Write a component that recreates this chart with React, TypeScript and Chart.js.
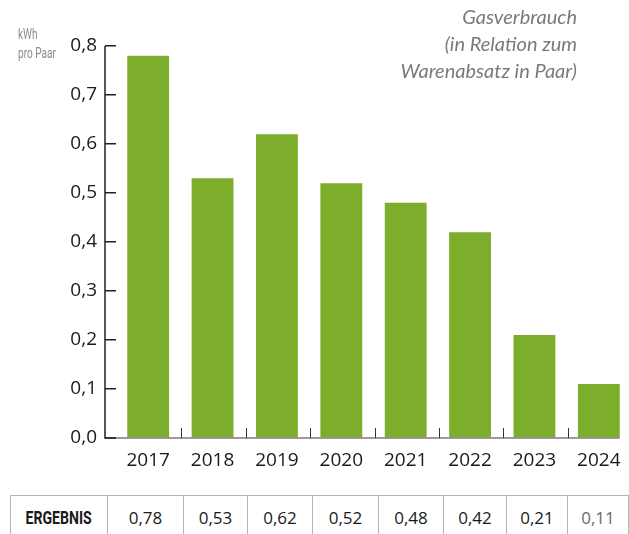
import React, { useEffect, useRef } from "react";
import { Chart, registerables } from "chart.js";

Chart.register(...registerables);

const years: string[] = ["2017", "2018", "2019", "2020", "2021", "2022", "2023", "2024"];
const values: number[] = [0.78, 0.53, 0.62, 0.52, 0.48, 0.42, 0.21, 0.11];
const yMin = 0;
const yMax = 0.8;
const yStep = 0.1;
const titleLines: string[] = ["Gasverbrauch", "(in Relation zum", "Warenabsatz in Paar)"];
const unitLines: string[] = ["kWh", "pro Paar"];
const rowLabel = "ERGEBNIS";

const fmt = (v: number, d: number) => v.toFixed(d).replace(".", ",");

const BAR_COLOR = "#7cad2b";
const colWidths = [97, 76, 64, 65, 66, 65, 63, 61, 61];

const axisPlugin = {
  id: "customAxes",
  afterDatasetsDraw(chart: any) {
    const { ctx, chartArea } = chart;
    const xs = chart.scales.x;
    const ys = chart.scales.y;
    const axisX = chartArea.left - 11;
    const bottom = chartArea.bottom;
    ctx.save();
    const meta = chart.getDatasetMeta(0);
    const last = meta.data[meta.data.length - 1] as any;
    const endX = last.x + last.width / 2;
    ctx.strokeStyle = "#7a7a7a";
    ctx.lineWidth = 1.5;
    ctx.beginPath();
    ctx.moveTo(axisX, bottom);
    ctx.lineTo(endX, bottom);
    ctx.stroke();
    ctx.strokeStyle = "#333";
    ctx.lineWidth = 1;
    for (let i = 1; i < years.length; i++) {
      const px = Math.round((xs.getPixelForValue(i - 1) + xs.getPixelForValue(i)) / 2 + 1) + 0.5;
      ctx.beginPath();
      ctx.moveTo(px, bottom - 10);
      ctx.lineTo(px, bottom);
      ctx.stroke();
    }
    ctx.strokeStyle = "#222";
    ctx.lineWidth = 1.5;
    ctx.beginPath();
    ctx.moveTo(axisX, ys.getPixelForValue(yMax));
    ctx.lineTo(axisX, bottom);
    ctx.lineTo(axisX + 11, bottom);
    ctx.stroke();
    ctx.restore();
  },
};

function BarChart() {
  const ref = useRef<HTMLCanvasElement | null>(null);
  useEffect(() => {
    if (!ref.current) return;
    const chart = new Chart(ref.current, {
      type: "bar",
      data: {
        labels: years,
        datasets: [
          {
            data: values,
            backgroundColor: BAR_COLOR,
            borderWidth: 0,
            barPercentage: 0.65,
            categoryPercentage: 1,
          },
        ],
      },
      options: {
        responsive: false,
        animation: false,
        devicePixelRatio: 1,
        layout: { padding: { left: 66, right: 9, top: 46, bottom: 0 } },
        plugins: {
          legend: { display: false },
          tooltip: { enabled: false },
          title: { display: false },
        },
        scales: {
          x: {
            grid: { display: false, drawTicks: false },
            border: { display: false },
            afterFit: (s: any) => {
              s.height = 42;
            },
            ticks: {
              color: "#1a1a1a",
              font: { family: "'Open Sans', 'DejaVu Sans', sans-serif", size: 19 },
              padding: 11,
              maxRotation: 0,
            },
          },
          y: {
            min: yMin,
            max: yMax,
            grid: {
              display: true,
              drawOnChartArea: false,
              drawTicks: true,
              tickLength: 11,
              color: "#222",
              lineWidth: 1.5,
            },
            border: { display: false },
            afterFit: (s: any) => {
              s.width = 50;
            },
            ticks: {
              stepSize: yStep,
              padding: 8,
              color: "#1a1a1a",
              font: { family: "'Open Sans', 'DejaVu Sans', sans-serif", size: 19 },
              callback: (v: any) => fmt(Number(v), 1),
            },
          },
        },
      } as any,
      plugins: [axisPlugin],
    });
    return () => chart.destroy();
  }, []);
  return <canvas ref={ref} width={640} height={480} style={{ display: "block" }} />;
}

export default function App() {
  const cellStyle: React.CSSProperties = {
    border: "1px solid #b5b5b5",
    textAlign: "center",
    verticalAlign: "middle",
    padding: 0,
    height: 43,
    fontFamily: "'Open Sans', 'DejaVu Sans', sans-serif",
    fontSize: 17,
    color: "#1a1a1a",
    boxSizing: "border-box",
  };
  return (
    <div
      style={{
        position: "absolute",
        left: 0,
        top: 0,
        width: 629,
        height: 534,
        overflow: "hidden",
        background: "#fff",
      }}
    >
      <div style={{ position: "absolute", left: 0, top: 0 }}>
        <BarChart />
      </div>
      <div
        style={{
          position: "absolute",
          right: 52,
          top: 3,
          textAlign: "right",
          fontFamily: "Lato, 'Open Sans', sans-serif",
          fontStyle: "italic",
          fontSize: 20,
          lineHeight: "27px",
          color: "#7a7a7a",
          whiteSpace: "nowrap",
        }}
      >
        {titleLines.map((l) => (
          <div key={l}>{l}</div>
        ))}
      </div>
      <div
        style={{
          position: "absolute",
          left: 18,
          top: 25,
          fontFamily: "Roboto, 'DejaVu Sans', sans-serif",
          fontSize: 14,
          lineHeight: "19px",
          color: "#8a8a8a",
          whiteSpace: "nowrap",
          transform: "scaleX(0.72)",
          transformOrigin: "left top",
        }}
      >
        {unitLines.map((l) => (
          <div key={l}>{l}</div>
        ))}
      </div>
      <table
        style={{
          position: "absolute",
          left: 10,
          top: 495,
          borderCollapse: "collapse",
          tableLayout: "fixed",
        }}
      >
        <colgroup>
          {colWidths.map((w, i) => (
            <col key={i} style={{ width: w }} />
          ))}
        </colgroup>
        <tbody>
          <tr>
            <td
              style={{
                ...cellStyle,
                fontFamily: "Roboto, 'DejaVu Sans', sans-serif",
                fontWeight: "bold",
                fontSize: 19,
              }}
            >
              <span style={{ display: "inline-block", transform: "scaleX(0.74)" }}>{rowLabel}</span>
            </td>
            {values.map((v, i) => (
              <td
                key={years[i]}
                style={{ ...cellStyle, color: i === values.length - 1 ? "#6a6a6a" : "#1a1a1a" }}
              >
                {fmt(v, 2)}
              </td>
            ))}
          </tr>
        </tbody>
      </table>
    </div>
  );
}
